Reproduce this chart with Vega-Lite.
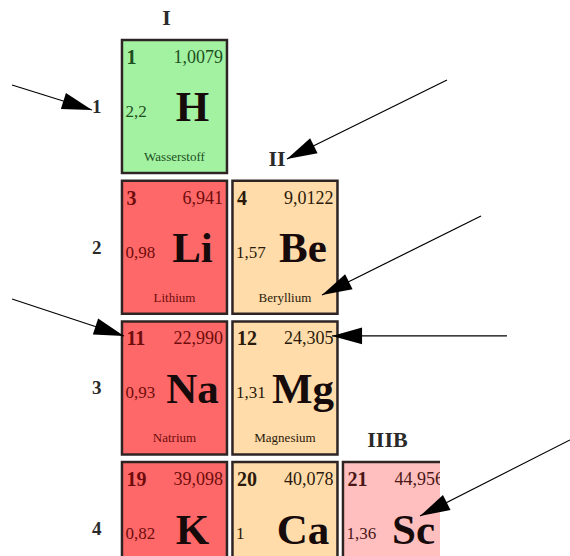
{
  "$schema": "https://vega.github.io/schema/vega-lite/v6.json",
  "width": 440,
  "height": 556,
  "autosize": "none",
  "padding": {"left": 0, "top": 0, "right": 130, "bottom": 0},
  "background": "white",
  "config": {
    "view": {"stroke": null}
  },
  "datasets": {
    "elements": [
      {"col": 1, "period": 1, "Z": "1", "symbol": "H", "mass": "1,0079", "en": "2,2", "name": "Wasserstoff", "category": "Nichtmetall"},
      {"col": 1, "period": 2, "Z": "3", "symbol": "Li", "mass": "6,941", "en": "0,98", "name": "Lithium", "category": "Alkalimetall"},
      {"col": 2, "period": 2, "Z": "4", "symbol": "Be", "mass": "9,0122", "en": "1,57", "name": "Beryllium", "category": "Erdalkalimetall"},
      {"col": 1, "period": 3, "Z": "11", "symbol": "Na", "mass": "22,990", "en": "0,93", "name": "Natrium", "category": "Alkalimetall"},
      {"col": 2, "period": 3, "Z": "12", "symbol": "Mg", "mass": "24,305", "en": "1,31", "name": "Magnesium", "category": "Erdalkalimetall"},
      {"col": 1, "period": 4, "Z": "19", "symbol": "K", "mass": "39,098", "en": "0,82", "category": "Alkalimetall"},
      {"col": 2, "period": 4, "Z": "20", "symbol": "Ca", "mass": "40,078", "en": "1", "category": "Erdalkalimetall"},
      {"col": 3, "period": 4, "Z": "21", "symbol": "Sc", "mass": "44,956", "en": "1,36", "category": "Übergangsmetall"}
    ],
    "groups": [
      {"col": 1, "period": 1, "label": "I"},
      {"col": 2, "period": 2, "label": "II"},
      {"col": 3, "period": 4, "label": "IIIB"}
    ],
    "arrows": [
      {"x": -0.470, "y": 0.847, "x2": 0.254, "y2": 1.025},
      {"x": 3.466, "y": 0.812, "x2": 2.018, "y2": 1.373},
      {"x": 3.774, "y": 1.778, "x2": 2.335, "y2": 2.340},
      {"x": 4.009, "y": 2.631, "x2": 2.426, "y2": 2.631},
      {"x": -0.470, "y": 2.368, "x2": 0.543, "y2": 2.631},
      {"x": 4.579, "y": 3.370, "x2": 3.222, "y2": 3.911}
    ]
  },
  "layer": [
    {
      "data": {"name": "elements"},
      "mark": {"type": "rect", "width": 105, "height": 133, "stroke": "#2e2424", "strokeWidth": 2.5, "clip": true},
      "encoding": {
        "x": {"field": "col", "type": "quantitative", "scale": {"domain": [-0.579, 3.403], "nice": false, "zero": false}, "axis": null},
        "y": {"field": "period", "type": "quantitative", "scale": {"domain": [0.2432, 4.1949], "nice": false, "zero": false, "reverse": true}, "axis": {"title": null, "values": [1, 2, 3, 4], "format": "d", "domain": false, "ticks": false, "tickSize": 0, "grid": false, "labelFont": "Liberation Serif", "labelFontWeight": "bold", "labelFontSize": 19, "labelColor": "#2a2a2a", "labelPadding": 0, "offset": -101}},
        "fill": {"field": "category", "type": "nominal", "legend": null, "scale": {"domain": ["Nichtmetall", "Alkalimetall", "Erdalkalimetall", "Übergangsmetall"], "range": ["#a2f2a2", "#ff6868", "#ffdcaa", "#ffbfbf"]}}
      }
    },
    {
      "data": {"name": "elements"},
      "mark": {"type": "text", "font": "Liberation Serif", "fontWeight": "bold", "fontSize": 20, "align": "left", "baseline": "middle", "dx": -48, "dy": -48.5, "clip": true},
      "encoding": {
        "x": {"field": "col", "type": "quantitative"},
        "y": {"field": "period", "type": "quantitative"},
        "text": {"field": "Z"},
        "color": {"field": "category", "type": "nominal", "legend": null, "scale": {"domain": ["Nichtmetall", "Alkalimetall", "Erdalkalimetall", "Übergangsmetall"], "range": ["#1e4f1e", "#6e0c0c", "#2a1a0a", "#4a1616"]}}
      }
    },
    {
      "data": {"name": "elements"},
      "mark": {"type": "text", "font": "Liberation Serif", "fontSize": 18, "align": "right", "baseline": "middle", "dx": 48.5, "dy": -48.5, "clip": true},
      "encoding": {
        "x": {"field": "col", "type": "quantitative"},
        "y": {"field": "period", "type": "quantitative"},
        "text": {"field": "mass"},
        "color": {"field": "category", "type": "nominal", "legend": null}
      }
    },
    {
      "data": {"name": "elements"},
      "mark": {"type": "text", "font": "Liberation Serif", "fontSize": 17, "align": "left", "baseline": "middle", "dx": -49, "dy": 5.5, "clip": true},
      "encoding": {
        "x": {"field": "col", "type": "quantitative"},
        "y": {"field": "period", "type": "quantitative"},
        "text": {"field": "en"},
        "color": {"field": "category", "type": "nominal", "legend": null}
      }
    },
    {
      "data": {"name": "elements"},
      "mark": {"type": "text", "font": "Liberation Serif", "fontWeight": "bold", "fontSize": 43, "align": "center", "baseline": "middle", "dx": 18, "dy": 2, "color": "#160a0a", "clip": true},
      "encoding": {
        "x": {"field": "col", "type": "quantitative"},
        "y": {"field": "period", "type": "quantitative"},
        "text": {"field": "symbol"}
      }
    },
    {
      "data": {"name": "elements"},
      "transform": [{"filter": "isValid(datum.name)"}],
      "mark": {"type": "text", "font": "Liberation Serif", "fontSize": 13, "align": "center", "baseline": "middle", "dx": 0, "dy": 50.5, "clip": true},
      "encoding": {
        "x": {"field": "col", "type": "quantitative"},
        "y": {"field": "period", "type": "quantitative"},
        "text": {"field": "name"},
        "color": {"field": "category", "type": "nominal", "legend": null}
      }
    },
    {
      "data": {"name": "groups"},
      "mark": {"type": "text", "font": "Liberation Serif", "fontWeight": "bold", "fontSize": 22, "align": "center", "baseline": "middle", "dx": -8, "dy": -88.5, "color": "#2a2a2a"},
      "encoding": {
        "x": {"field": "col", "type": "quantitative"},
        "y": {"field": "period", "type": "quantitative"},
        "text": {"field": "label"}
      }
    },
    {
      "data": {"name": "arrows"},
      "mark": {"type": "rule", "color": "#000000", "strokeWidth": 1.2},
      "encoding": {
        "x": {"field": "x", "type": "quantitative"},
        "y": {"field": "y", "type": "quantitative"},
        "x2": {"field": "x2"},
        "y2": {"field": "y2"}
      }
    },
    {
      "data": {"name": "arrows"},
      "transform": [
        {"calculate": "atan2((datum.x2 - datum.x) * 110.5, -(datum.y2 - datum.y) * 140.7) * 180 / PI", "as": "heading"}
      ],
      "mark": {"type": "point", "shape": "M0,0L0.28,1L-0.28,1Z", "size": 3600, "filled": true, "color": "#000000", "opacity": 1, "strokeWidth": 0},
      "encoding": {
        "x": {"field": "x2", "type": "quantitative"},
        "y": {"field": "y2", "type": "quantitative"},
        "angle": {"field": "heading", "type": "quantitative", "scale": null}
      }
    }
  ]
}
